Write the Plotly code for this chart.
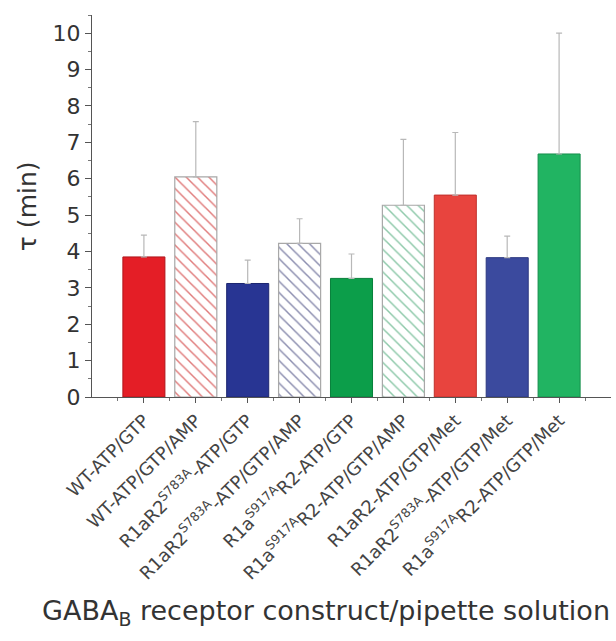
import plotly.graph_objects as go

categories = [
    "WT-ATP/GTP",
    "WT-ATP/GTP/AMP",
    "R1aR2<sup>S783A</sup>-ATP/GTP",
    "R1aR2<sup>S783A</sup>-ATP/GTP/AMP",
    "R1a<sup>S917A</sup>R2-ATP/GTP",
    "R1a<sup>S917A</sup>R2-ATP/GTP/AMP",
    "R1aR2-ATP/GTP/Met",
    "R1aR2<sup>S783A</sup>-ATP/GTP/Met",
    "R1a<sup>S917A</sup>R2-ATP/GTP/Met",
]
tau_mean = [3.85, 6.05, 3.12, 4.22, 3.26, 5.27, 5.55, 3.83, 6.68]
tau_err = [0.60, 1.52, 0.64, 0.68, 0.67, 1.81, 1.72, 0.59, 3.32]

hatched = [False, True, False, True, False, True, False, False, False]
bar_colors = ["#e41e26", "#e07a7a", "#283593", "#8a8cae", "#0c9e4a",
              "#8cc8a8", "#e8443e", "#3b4a9e", "#21b462"]
edge_colors = ["#b0161c", "#a8a8a8", "#1c2670", "#a8a8a8", "#07803a",
               "#a8a8a8", "#c0302c", "#2c3880", "#168e4c"]

xpos = list(range(len(categories)))

fig = go.Figure()

solid_idx = [i for i in xpos if not hatched[i]]
hatch_idx = [i for i in xpos if hatched[i]]

err_style = dict(type="data", symmetric=False, color="#b8b8b8",
                 thickness=1.2, width=3)

fig.add_trace(go.Bar(
    x=[xpos[i] for i in solid_idx],
    y=[tau_mean[i] for i in solid_idx],
    width=0.81,
    marker=dict(color=[bar_colors[i] for i in solid_idx],
                line=dict(color=[edge_colors[i] for i in solid_idx], width=1)),
    error_y=dict(array=[tau_err[i] for i in solid_idx],
                 arrayminus=[0] * len(solid_idx), **err_style),
    showlegend=False,
))
fig.add_trace(go.Bar(
    x=[xpos[i] for i in hatch_idx],
    y=[tau_mean[i] for i in hatch_idx],
    width=0.81,
    marker=dict(
        color="white",
        line=dict(color=[edge_colors[i] for i in hatch_idx], width=1.2),
        pattern=dict(shape="\\", fgcolor=[bar_colors[i] for i in hatch_idx],
                     bgcolor="white", size=8, solidity=0.18,
                     fillmode="replace"),
    ),
    error_y=dict(array=[tau_err[i] for i in hatch_idx],
                 arrayminus=[0] * len(hatch_idx), **err_style),
    showlegend=False,
))

fig.update_layout(
    width=616, height=641,
    margin=dict(l=92, r=5, t=15, b=244),
    paper_bgcolor="white", plot_bgcolor="white",
    barmode="overlay",
    font=dict(family="DejaVu Sans, Arial, sans-serif", color="#333333"),
    xaxis=dict(
        range=[-1, 9], tickmode="array", tickvals=xpos, ticktext=categories,
        tickangle=-45, tickfont=dict(size=18, color="#444444"),
        showline=True, linecolor="#555555", linewidth=1.2,
        ticks="outside", ticklen=5, tickcolor="#555555",
        minor=dict(tickmode="array", tickvals=[x + 0.5 for x in range(-1, 9)],
                   ticks="outside", ticklen=3, tickcolor="#777777"),
        showgrid=False, zeroline=False,
    ),
    yaxis=dict(
        range=[0, 10.5], tickvals=list(range(0, 11)),
        tickfont=dict(size=22, color="#333333"),
        showline=True, linecolor="#555555", linewidth=1.2,
        ticks="outside", ticklen=6, tickcolor="#555555",
        minor=dict(dtick=0.5, ticks="outside", ticklen=3, tickcolor="#777777"),
        showgrid=False, zeroline=False,
    ),
    annotations=[
        dict(text="τ (min)", textangle=-90, xref="paper", yref="paper",
             x=-0.125, y=0.50, xanchor="center", yanchor="middle",
             showarrow=False, font=dict(size=25, color="#333333")),
        dict(text="GABA<sub>B</sub> receptor construct/pipette solution",
             xref="paper", yref="paper", x=0.45, y=-0.565,
             xanchor="center", yanchor="middle", showarrow=False,
             font=dict(size=27, color="#333333")),
    ],
)

fig.write_html("out.html")
